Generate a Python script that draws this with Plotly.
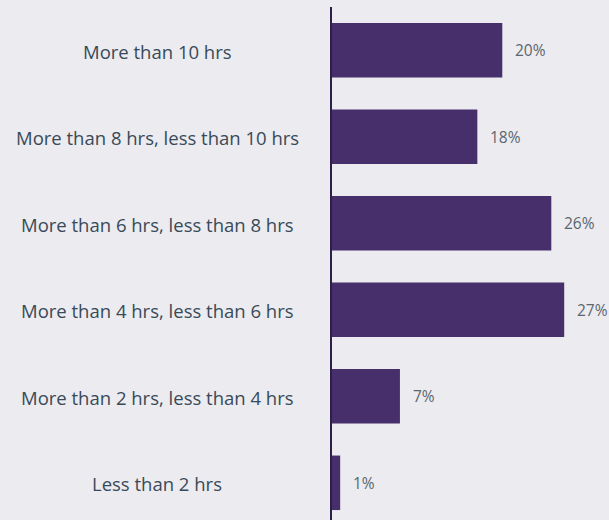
import plotly.graph_objects as go

categories = [
    "More than 10 hrs",
    "More than 8 hrs, less than 10 hrs",
    "More than 6 hrs, less than 8 hrs",
    "More than 4 hrs, less than 6 hrs",
    "More than 2 hrs, less than 4 hrs",
    "Less than 2 hrs",
]
values = [19.8, 16.9, 25.5, 27.0, 7.9, 0.95]
value_labels = ["20%", "18%", "26%", "27%", "7%", "1%"]

BG = "#ECEBEF"
BAR = "#472F6B"
AXIS = "#2E1F4A"
TXT = "#384A59"

W, H = 609, 520
L, R, T, B = 332, 0, 7, 0
plot_w = W - L - R

fig = go.Figure()
fig.add_trace(go.Bar(
    x=values, y=categories, orientation="h",
    marker=dict(color=BAR, line=dict(width=0)),
    width=0.63, hoverinfo="skip",
))

for c, v, lab in zip(categories, values, value_labels):
    fig.add_annotation(x=v, y=c, xref="x", yref="y", text=lab, showarrow=False,
                       xanchor="left", xshift=11,
                       font=dict(family="Open Sans, sans-serif", size=15.5, color="#5A6670"))
    fig.add_annotation(x=(157 - L) / plot_w, y=c, xref="paper", yref="y", text=c,
                       showarrow=False, xanchor="center", yshift=-1,
                       font=dict(family="Open Sans, sans-serif", size=18.5, color=TXT))

fig.update_layout(
    width=W, height=H,
    margin=dict(l=L, r=R, t=T, b=B),
    paper_bgcolor=BG, plot_bgcolor=BG,
    showlegend=False,
    xaxis=dict(range=[0, plot_w / 8.6], visible=False, fixedrange=True),
    yaxis=dict(categoryorder="array", categoryarray=categories[::-1],
               range=[-0.43, 5.5], showticklabels=False, showgrid=False,
               zeroline=False, showline=True, linecolor=AXIS, linewidth=2,
               ticks="", fixedrange=True),
)

fig.write_html("out.html", config={"displayModeBar": False},
               post_script="document.body.style.margin='0';document.body.style.overflow='hidden';")
